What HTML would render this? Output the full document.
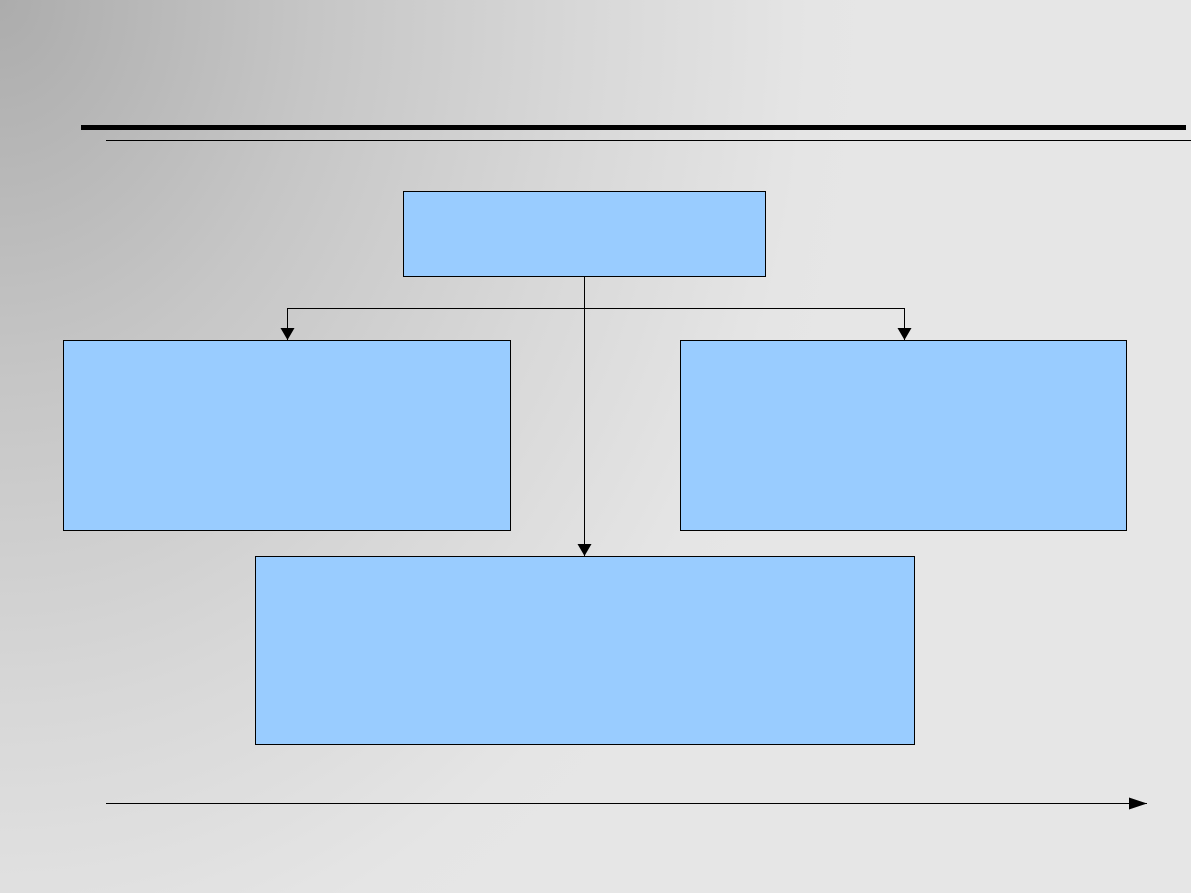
<!DOCTYPE html>
<html><head><style>
html,body{margin:0;padding:0}
body{width:1191px;height:893px;overflow:hidden;background:radial-gradient(ellipse 900px 1100px at 0px 0px,#acacac 0%,#c6c6c6 35%,#d8d8d8 65%,#e5e5e5 90%,#e6e6e6 100%);position:relative}
svg{position:absolute;left:0;top:0}
</style></head><body>
<svg width="1191" height="893" viewBox="0 0 1191 893">
<defs><marker id="a" markerWidth="12" markerHeight="14" refX="12" refY="7" orient="auto" markerUnits="userSpaceOnUse"><path d="M0,0 L12,7 L0,14 z" fill="#000"/></marker>
<marker id="b" markerWidth="18" markerHeight="12" refX="18" refY="6" orient="auto" markerUnits="userSpaceOnUse"><path d="M0,0 L18,6 L0,12 z" fill="#000"/></marker></defs>
<rect x="81" y="125" width="1105" height="5" fill="#000"/>
<rect x="106" y="140" width="1085" height="1" fill="#000"/>
<g fill="#99ccff" stroke="#000" stroke-width="1">
<rect x="403.5" y="191.5" width="362" height="85"/>
<rect x="63.5" y="340.5" width="447" height="190"/>
<rect x="680.5" y="340.5" width="446" height="190"/>
<rect x="255.5" y="556.5" width="659" height="188"/>
</g>
<g stroke="#000" stroke-width="1" fill="none">
<line x1="584.5" y1="277" x2="584.5" y2="556" marker-end="url(#a)"/>
<polyline points="287.5,340 287.5,308.5 904.5,308.5 904.5,340" />
<line x1="287.5" y1="320" x2="287.5" y2="340" marker-end="url(#a)"/>
<line x1="904.5" y1="320" x2="904.5" y2="340" marker-end="url(#a)"/>
<line x1="106" y1="803.5" x2="1147" y2="803.5" marker-end="url(#b)"/>
</g>
</svg>
</body></html>
